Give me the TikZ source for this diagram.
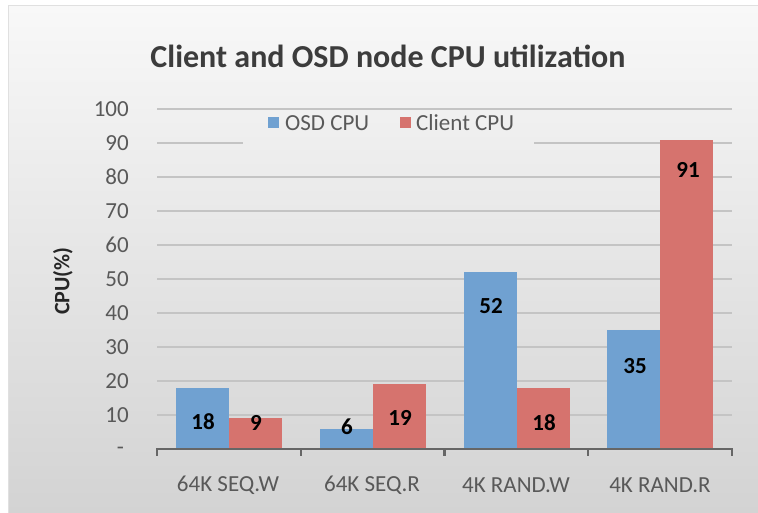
\documentclass[tikz,border=0pt]{standalone}
\usepackage{fontspec}
\setmainfont{Carlito}
\definecolor{bgtop}{HTML}{F8F8F8}
\definecolor{bgbot}{HTML}{D3D3D3}
\definecolor{gridcol}{HTML}{C4C4C4}
\definecolor{axiscol}{HTML}{666666}
\definecolor{osdcol}{HTML}{70A1D1}
\definecolor{clicol}{HTML}{D6736E}
\definecolor{txtgray}{HTML}{595959}
\definecolor{titlecol}{HTML}{3C3C3C}
\tikzset{
  gridline/.style={draw=gridcol, line width=1.6pt},
  axisline/.style={draw=axiscol, line width=2.2pt},
  osdbar/.style={fill=osdcol},
  clibar/.style={fill=clicol},
  ticklabel/.style={text=txtgray, font=\fontsize{23}{26}\selectfont, inner sep=0pt, anchor=east},
  catlabel/.style={text=txtgray, font=\fontsize{23}{26}\selectfont, inner sep=0pt},
  vallabel/.style={text=black, font=\bfseries\fontsize{23}{26}\selectfont, inner sep=0pt},
  legtext/.style={text=txtgray, font=\fontsize{23}{26}\selectfont, inner sep=0pt, anchor=west},
}
\begin{document}
\begin{tikzpicture}[x=1pt, y=-1pt]
  % page and chart frame
  \fill[white] (0,0) rectangle (758,513);
  \useasboundingbox (0,0) rectangle (758,513);
  \shade[top color=bgtop, bottom color=bgbot] (8,6) rectangle (758,513);
  \draw[draw=black!12, line width=1pt] (8,513) -- (8,6) -- (758,6);

  % title
  \node[text=titlecol, font=\bfseries\fontsize{32}{36}\selectfont, inner sep=0pt] (title) at (388,56) {Client and OSD node CPU utilization};

  % horizontal grid (value v sits at y = 449 - 3.4 v)
  \foreach \v in {10,20,...,80,100} {
    \draw[gridline] (157,{449-3.4*\v}) -- (732,{449-3.4*\v});
  }
  % the 90 line is interrupted by the legend box
  \draw[gridline] (157,143) -- (243,143);
  \draw[gridline] (534,143) -- (732,143);

  % y tick labels
  \foreach \v in {10,20,...,100} {
    \node[ticklabel] (y\v) at (129,{449-3.4*\v}) {\v};
  }
  \node[ticklabel] (y0) at (124,451) {-};

  % y axis title
  \node[text=black!85, font=\bfseries\fontsize{22}{26}\selectfont, rotate=90, inner sep=0pt] (ytitle) at (63,281) {CPU(\%)};

  % legend
  \fill[osdcol] (268,117) rectangle (279,128);
  \node[legtext] (leg1) at (285,123) {OSD CPU};
  \fill[clicol] (400,117) rectangle (411,128);
  \node[legtext] (leg2) at (416,123) {Client CPU};

  % bars: category c starts at 157 + 143.75 c; blue at +19, red at +72, width 53
  \foreach \c/\a/\b in {0/18/9, 1/6/19, 2/52/18, 3/35/91} {
    \pgfmathsetmacro{\xs}{157+143.75*\c}
    \fill[osdbar] ({\xs+19},449) rectangle ({\xs+72},{449-3.4*\a});
    \fill[clibar] ({\xs+72},449) rectangle ({\xs+125},{449-3.4*\b});
  }

  % value labels
  \node[vallabel] (v1a) at (203,422) {18};
  \node[vallabel] (v1b) at (256,423) {9};
  \node[vallabel] (v2a) at (347,427) {6};
  \node[vallabel] (v2b) at (400,418) {19};
  \node[vallabel] (v3a) at (491,306) {52};
  \node[vallabel] (v3b) at (544,423) {18};
  \node[vallabel] (v4a) at (635,366) {35};
  \node[vallabel] (v4b) at (688,170) {91};

  % category axis with tick marks
  \draw[axisline] (157,449) -- (732,449);
  \foreach \c in {0,1,2,3,4} {
    \draw[axisline] ({157+143.75*\c},448) -- ({157+143.75*\c},456);
  }

  % category labels
  \node[catlabel] (c1) at (228,485) {64K SEQ.W};
  \node[catlabel] (c2) at (372,485) {64K SEQ.R};
  \node[catlabel] (c3) at (516,485) {4K RAND.W};
  \node[catlabel] (c4) at (660,485) {4K RAND.R};
\end{tikzpicture}
\end{document}
